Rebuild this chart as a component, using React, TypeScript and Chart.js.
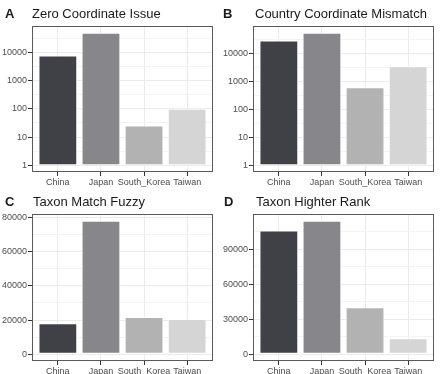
import React, { useEffect, useRef } from "react";
import { Chart, registerables } from "chart.js";

Chart.register(...registerables);

const categories = ["China", "Japan", "South_Korea", "Taiwan"];
const zeroCoordinate = [7800, 50000, 26, 100];
const countryMismatch = [29600, 56000, 620, 3480];
const taxonFuzzy = [18200, 78000, 21800, 20600];
const taxonHigher = [106000, 114500, 40300, 13700];

const logMajorTicks = [1, 10, 100, 1000, 10000];
const logMinorTicks = [3.1623, 31.623, 316.23, 3162.3, 31623];
const fuzzyMajorTicks = [0, 20000, 40000, 60000, 80000];
const fuzzyMinorTicks = [10000, 30000, 50000, 70000];
const higherMajorTicks = [0, 30000, 60000, 90000];
const higherMinorTicks = [15000, 45000, 75000, 105000];

const barColors = ["#404146", "#87878b", "#b2b2b2", "#d5d5d5"];

type PanelDef = {
  letter: string;
  title: string;
  values: number[];
  log: boolean;
  majors: number[];
  minors: number[];
  left: number;
  top: number;
  width: number;
  height: number;
  axisWidth: number;
  plotTop: number;
  plotBottom: number;
  titleLeft: number;
  letterLeft: number;
  titleTop: number;
};

const panels: PanelDef[] = [
  { letter: "A", title: "Zero Coordinate Issue", values: zeroCoordinate, log: true, majors: logMajorTicks, minors: logMinorTicks, left: 0, top: 0, width: 220, height: 187, axisWidth: 32, plotTop: 26, plotBottom: 172, titleLeft: 32, letterLeft: 5, titleTop: 6 },
  { letter: "B", title: "Country Coordinate Mismatch", values: countryMismatch, log: true, majors: logMajorTicks, minors: logMinorTicks, left: 220, top: 0, width: 221, height: 187, axisWidth: 33, plotTop: 26, plotBottom: 172, titleLeft: 35, letterLeft: 3, titleTop: 6 },
  { letter: "C", title: "Taxon Match Fuzzy", values: taxonFuzzy, log: false, majors: fuzzyMajorTicks, minors: fuzzyMinorTicks, left: 0, top: 187, width: 220, height: 187, axisWidth: 32, plotTop: 27, plotBottom: 174, titleLeft: 33, letterLeft: 5, titleTop: 7 },
  { letter: "D", title: "Taxon Highter Rank", values: taxonHigher, log: false, majors: higherMajorTicks, minors: higherMinorTicks, left: 220, top: 187, width: 221, height: 187, axisWidth: 33, plotTop: 27, plotBottom: 174, titleLeft: 36, letterLeft: 4, titleTop: 7 },
];

const boxPlugin = {
  id: "panelBox",
  afterDraw(chart: any) {
    const { ctx, chartArea } = chart;
    ctx.save();
    ctx.strokeStyle = "#5a5a5a";
    ctx.lineWidth = 1;
    ctx.strokeRect(
      Math.round(chartArea.left) + 0.5,
      Math.round(chartArea.top) + 0.5,
      Math.round(chartArea.right - chartArea.left) - 1,
      Math.round(chartArea.bottom - chartArea.top) - 1
    );
    ctx.restore();
  },
};

function Panel({ p }: { p: PanelDef }) {
  const ref = useRef<HTMLCanvasElement | null>(null);
  useEffect(() => {
    if (!ref.current) return;
    const M = Math.max(...p.values);
    let yMin: number, yMax: number;
    if (p.log) {
      const L = Math.log10(M);
      yMin = Math.pow(10, -0.05 * L);
      yMax = Math.pow(10, 1.05 * L);
    } else {
      yMin = -0.05 * M;
      yMax = 1.05 * M;
    }
    const allTicks = [...p.majors, ...p.minors].filter((v) => v >= yMin && v <= yMax).sort((a, b) => a - b);
    const isMajor = (v: number) => p.majors.some((m) => Math.abs(m - v) < 1e-6);
    const data = p.values.map((v, i) => ({ x: i + 1, y: p.log ? [1, v] : v }));
    const chart = new Chart(ref.current, {
      type: "bar",
      data: {
        datasets: [
          {
            data: data as any,
            backgroundColor: barColors,
            borderColor: "#ffffff",
            borderWidth: 1,
            borderSkipped: false,
            categoryPercentage: 1,
            barPercentage: 0.9,
          },
        ],
      },
      options: {
        animation: false,
        responsive: false,
        devicePixelRatio: 1,
        layout: { padding: { top: p.plotTop, right: p.width - p.axisWidth - 181, left: 0, bottom: 0 } },
        plugins: { legend: { display: false }, tooltip: { enabled: false }, title: { display: false } },
        scales: {
          x: {
            type: "linear",
            min: 0.4,
            max: 4.6,
            offset: false,
            grid: { offset: false, color: "#ebebeb", tickColor: "#333333", tickLength: 4, lineWidth: 1 },
            border: { display: false },
            afterBuildTicks: (s: any) => {
              s.ticks = categories.map((_, i) => ({ value: i + 1 }));
            },
            afterFit: (s: any) => {
              s.height = p.height - p.plotBottom;
            },
            ticks: {
              autoSkip: false,
              maxRotation: 0,
              minRotation: 0,
              padding: 1,
              color: "#4d4d4d",
              font: { size: 9, family: "'Liberation Sans', Arial, sans-serif" },
              callback: (v: any) => categories[Math.round(Number(v)) - 1] ?? "",
            },
          },
          y: {
            type: p.log ? "logarithmic" : "linear",
            min: yMin,
            max: yMax,
            grid: {
              color: (c: any) => (c.tick && isMajor(c.tick.value) ? "#ebebeb" : "#f3f3f3"),
              tickColor: (c: any) => (c.tick && isMajor(c.tick.value) ? "#333333" : "rgba(0,0,0,0)"),
              tickLength: 4,
              lineWidth: 1,
            },
            border: { display: false },
            afterBuildTicks: (s: any) => {
              s.ticks = allTicks.map((v) => ({ value: v }));
            },
            afterFit: (s: any) => {
              s.width = p.axisWidth;
            },
            ticks: {
              autoSkip: false,
              padding: 1,
              color: "#4d4d4d",
              font: { size: 9, family: "'Liberation Sans', Arial, sans-serif" },
              callback: (v: any) => (isMajor(Number(v)) ? String(Math.round(Number(v))) : ""),
            },
          } as any,
        },
      },
      plugins: [boxPlugin],
    });
    return () => chart.destroy();
  }, []);
  return (
    <div style={{ position: "absolute", left: p.left, top: p.top, width: p.width, height: p.height, overflow: "hidden" }}>
      <canvas ref={ref} width={p.width} height={p.height} style={{ position: "absolute", left: 0, top: 0 }} />
      <div style={{ position: "absolute", left: p.letterLeft, top: p.titleTop, fontFamily: "'Liberation Sans', Arial, sans-serif", fontWeight: "bold", fontSize: 13, lineHeight: "15px", color: "#1a1a1a" }}>{p.letter}</div>
      <div style={{ position: "absolute", left: p.titleLeft, top: p.titleTop, fontFamily: "'Liberation Sans', Arial, sans-serif", fontSize: 13, lineHeight: "15px", color: "#1a1a1a", whiteSpace: "nowrap" }}>{p.title}</div>
    </div>
  );
}

export default function App() {
  return (
    <div style={{ position: "fixed", left: 0, top: 0, width: 441, height: 374, background: "#ffffff", overflow: "hidden" }}>
      {panels.map((p) => (
        <Panel key={p.letter} p={p} />
      ))}
    </div>
  );
}
